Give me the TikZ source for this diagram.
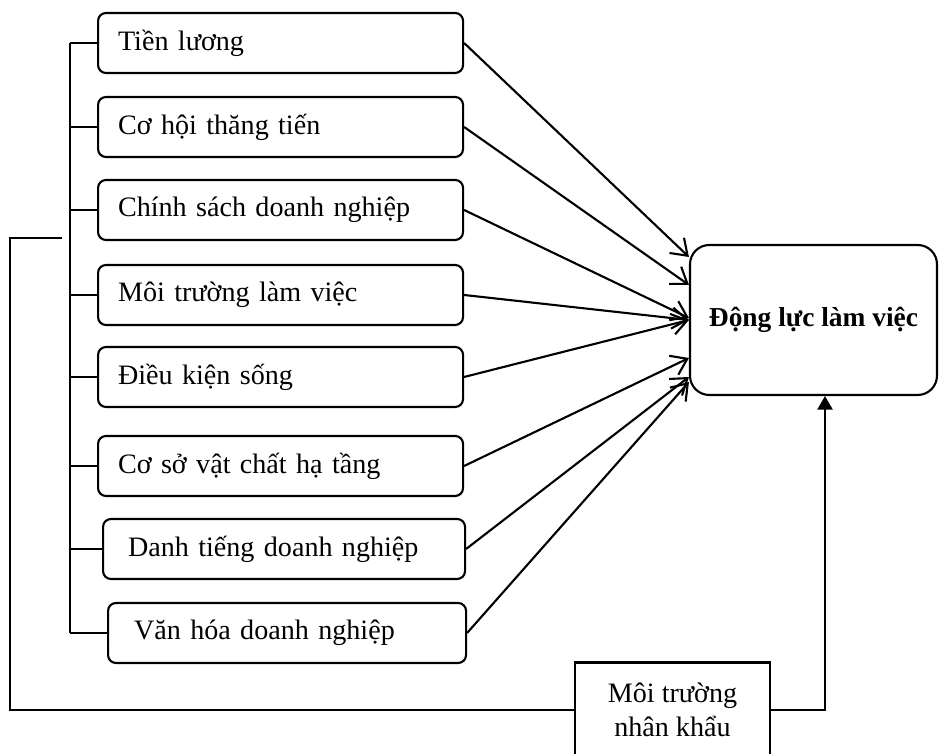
\documentclass[tikz,border=0pt]{standalone}
\usepackage{fontspec}
\setmainfont{Liberation Serif}
\usetikzlibrary{arrows.meta,positioning}
\tikzset{
  every node/.style={font=\fontsize{16}{19.5}\selectfont},
  factor/.style={
    draw=black,
    line width=1.2pt,
    rounded corners=4.5pt,
    anchor=west,
    minimum height=1.2cm,
    inner xsep=0.4cm,
    text width=6.5cm,
    align=left
  },
  outcome/.style={
    draw=black,
    line width=1.2pt,
    rounded corners=11pt,
    minimum width=4.94cm,
    minimum height=3.0cm,
    align=center,
    font=\bfseries\fontsize{15.6}{18}\selectfont
  },
  moderator/.style={
    draw=black,
    line width=1.2pt,
    minimum width=3.9cm,
    minimum height=1.9cm,
    align=center
  },
  link/.style={draw=black,line width=1.2pt},
  influence/.style={link,-{Straight Barb[length=3mm,width=4.2mm,line width=1.2pt]}},
  effect/.style={link,-{Triangle[length=2.7mm,width=3mm]}}
}

\begin{document}
\begin{tikzpicture}
  \clip (0,0) rectangle (18.78,15.08);
  \fill[white] (0,0) rectangle (18.78,15.08);

  % Các nhân tố ảnh hưởng.
  \node[factor] (tienluong) at (1.94,14.22) {Tiền lương};
  \node[factor] (cohoi) at (1.94,12.54) {Cơ hội thăng tiến};
  \node[factor] (chinhsach) at (1.94,10.88) {Chính sách doanh nghiệp};
  \node[factor] (moitruong) at (1.94,9.18) {Môi trường làm việc};
  \node[factor] (dieukien) at (1.94,7.54) {Điều kiện sống};
  \node[factor] (cosovc) at (1.94,5.76) {Cơ sở vật chất hạ tầng};
  \node[factor,inner xsep=0.5cm,text width=6.24cm] (danhtieng) at (2.04,4.10)
    {Danh tiếng doanh nghiệp};
  \node[factor,inner xsep=0.52cm,text width=6.12cm] (vanhoa) at (2.14,2.42)
    {Văn hóa doanh nghiệp};

  % Biến phụ thuộc và biến kiểm soát.
  \node[outcome] (dongluc) at (16.27,8.68) {Động lực làm việc};
  \node[moderator] (nhankhau) at (13.45,0.88) {Môi trường\\nhân khẩu};

  % Đường gom bên trái.
  \coordinate (trunk) at (1.40,0);
  \coordinate (outer-top) at (1.24,10.32);
  \draw[link] (tienluong.west -| trunk) -- (vanhoa.west -| trunk);
  \foreach \f in {tienluong,cohoi,chinhsach,moitruong,dieukien,cosovc,danhtieng,vanhoa}
    \draw[link] (\f.west -| trunk) -- (\f.west);
  \draw[link] (outer-top) -- (0.20,10.32) |- (nhankhau.west);

  % Tác động của từng nhân tố.
  \foreach \f/\dy in {tienluong/1.26,cohoi/0.70,chinhsach/0.04,moitruong/0,
                      dieukien/0,cosovc/-0.76,danhtieng/-1.14,vanhoa/-1.24}
    \draw[influence] (\f.east) -- ([yshift=\dy cm]dongluc.west);

  % Tác động của môi trường nhân khẩu.
  \draw[effect] (nhankhau.east) -| ([xshift=0.23cm]dongluc.south);
\end{tikzpicture}
\end{document}
